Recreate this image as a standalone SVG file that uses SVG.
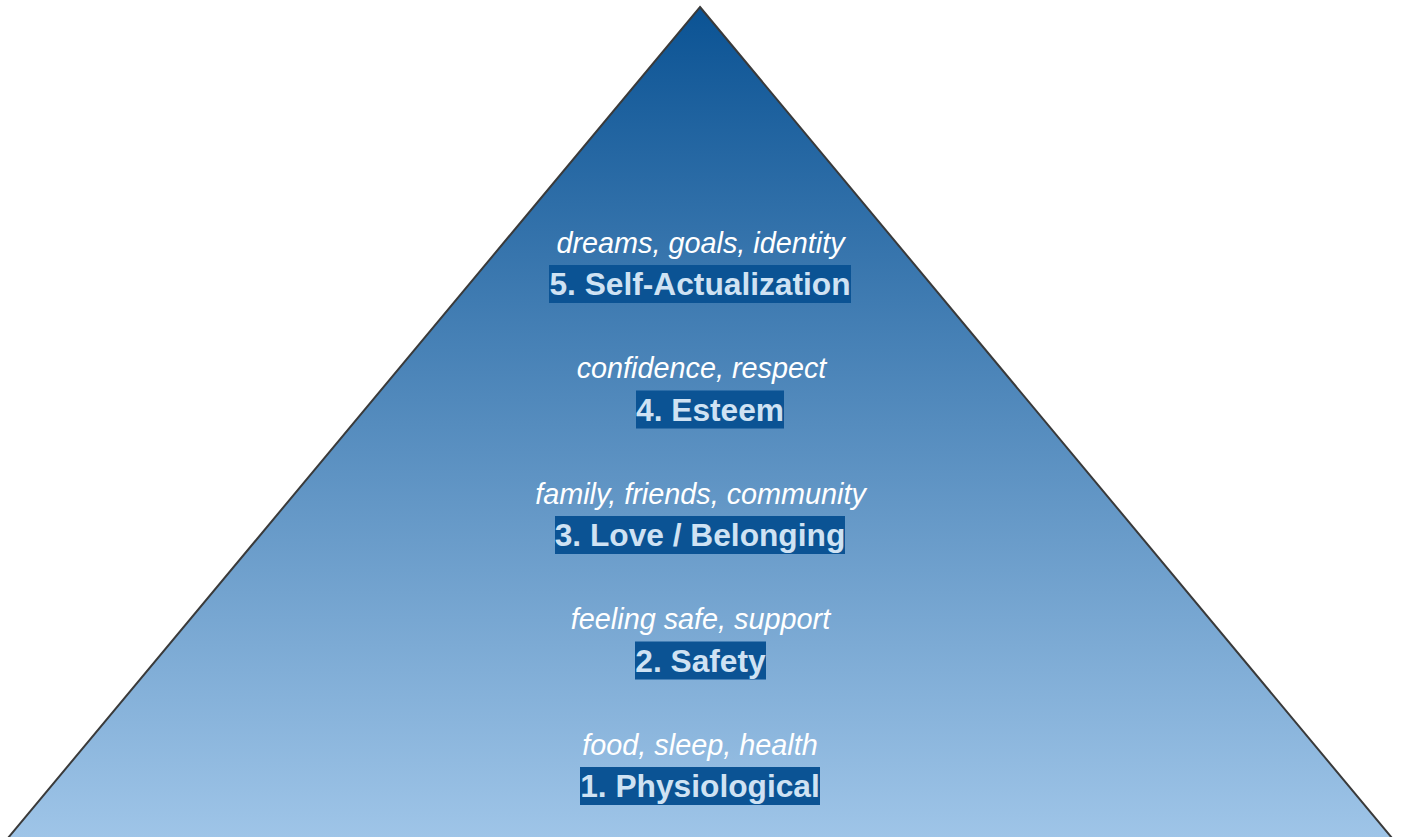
<svg xmlns="http://www.w3.org/2000/svg" width="1401" height="837" viewBox="0 0 1401 837">
  <defs>
    <linearGradient id="pyr" gradientUnits="userSpaceOnUse" x1="0" y1="7" x2="0" y2="840">
      <stop offset="0" stop-color="#0b5394"/>
      <stop offset="1" stop-color="#9fc5e8"/>
    </linearGradient>
  </defs>
  <style>
    .desc { font-family: "Liberation Sans", Arial, sans-serif; font-style: italic; font-size: 28.8px; fill: #ffffff; text-anchor: middle; }
    .title { font-family: "Liberation Sans", Arial, sans-serif; font-weight: bold; font-size: 31.7px; fill: #cfe2f3; text-anchor: middle; }
    .box { fill: #0b5394; }
  </style>
  <rect x="0" y="0" width="1401" height="837" fill="#ffffff"/>
  <g id="pyramid">
    <polygon points="700,7 1402,850 -2,850" fill="url(#pyr)" stroke="#3a3a3a" stroke-width="2" stroke-linejoin="miter"/>
  </g>
  <g id="connectors"></g>
  <g id="level5">
    <text class="desc" x="700.5" y="252.5">dreams, goals, identity</text>
    <rect class="box" x="549" y="265" width="302" height="38"/>
    <text class="title" x="700" y="295">5. Self-Actualization</text>
  </g>
  <g id="level4">
    <text class="desc" x="701.5" y="378">confidence, respect</text>
    <rect class="box" x="636" y="390.5" width="148" height="38"/>
    <text class="title" x="710" y="420.5">4. Esteem</text>
  </g>
  <g id="level3">
    <text class="desc" x="700.5" y="503.5">family, friends, community</text>
    <rect class="box" x="555" y="516" width="290" height="38"/>
    <text class="title" x="700" y="546">3. Love / Belonging</text>
  </g>
  <g id="level2">
    <text class="desc" x="700.5" y="629">feeling safe, support</text>
    <rect class="box" x="635" y="641.5" width="131" height="38"/>
    <text class="title" x="700.5" y="671.5">2. Safety</text>
  </g>
  <g id="level1">
    <text class="desc" x="700" y="754.5">food, sleep, health</text>
    <rect class="box" x="580" y="767" width="240" height="38"/>
    <text class="title" x="700" y="797">1. Physiological</text>
  </g>
</svg>
